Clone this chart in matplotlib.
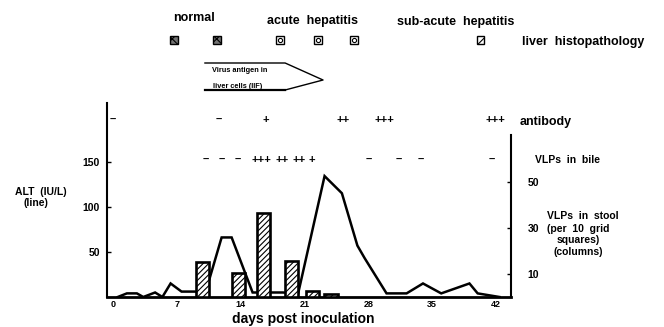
import matplotlib
matplotlib.use('Agg')
import matplotlib.pyplot as plt
from matplotlib.transforms import blended_transform_factory
from matplotlib.patches import Rectangle

plt.rcParams['font.family'] = ['Liberation Sans', 'DejaVu Sans']
plt.rcParams['font.weight'] = 'bold'
plt.rcParams['hatch.linewidth'] = 0.8

# ---------------- data ----------------
alt_days = [0.5, 1.5, 2.6, 3.3, 4.6, 5.4, 6.3, 7.5, 9.0, 10.1, 11.9, 13.0, 15.3,
            18.6, 20.3, 23.2, 25.1, 26.8, 27.6, 30.0, 32.2, 34.0, 36.0, 39.1, 40.0, 42.4]
alt_vals = [0, 4, 4, 0, 5, 0, 15, 6, 6, 4, 66, 66, 5,
            5, 4, 134, 115, 57, 43, 4, 4, 15, 4, 15, 4, 0]

stool_days = [9.8, 13.75, 16.5, 19.6, 21.9, 23.9]
stool_vals = [15, 10.5, 36.5, 15.5, 2.6, 1.3]

ab_days = [0, 11.6, 16.7, 25.2, 29.8, 41.9]
ab_labels = ['–', '–', '+', '++', '+++', '+++']

bile_days = [10.2, 11.9, 13.7, 16.3, 18.5, 20.4, 21.8, 28.1, 31.3, 33.7, 41.6]
bile_labels = ['–', '–', '–', '+++', '++', '++', '+', '–', '–', '–', '–']

histo_days = [6.7, 11.4, 18.3, 22.5, 26.4, 40.3]
histo_types = ['normal', 'normal', 'acute', 'acute', 'acute', 'subacute']

x_ticks = [0, 7, 14, 21, 28, 35, 42]
alt_ticks = [50, 100, 150]
stool_ticks = [10, 30, 50]

# ---------------- figure ----------------
W, H = 664, 327
fig = plt.figure(figsize=(W / 100, H / 100), dpi=100)
fig.patch.set_facecolor('white')

def fx(px):
    return px / W

def fy(px):
    return 1 - px / H

ax = fig.add_axes([fx(107), fy(297), fx(511) - fx(107), fy(103) - fy(297)])
ax2 = ax.twinx()

ax.plot(alt_days, alt_vals, color='black', lw=1.8, solid_joinstyle='miter')
ax.set_xlim(-0.68, 43.66)
ax.set_ylim(0, 215)

ax2.bar(stool_days, stool_vals, width=1.45, facecolor='white', edgecolor='black',
        linewidth=1.9, hatch='//////', zorder=3)
ax2.set_ylim(0, 84.3)
ax.set_zorder(1)
ax.patch.set_visible(False)
ax2.set_zorder(2)
ax2.patch.set_visible(False)

for a in (ax, ax2):
    a.spines['top'].set_visible(False)
ax.spines['right'].set_visible(False)
ax2.spines['left'].set_visible(False)
ax2.spines['bottom'].set_visible(False)
ax.spines['left'].set_linewidth(1.5)
ax.spines['bottom'].set_linewidth(2.0)
ax2.spines['right'].set_linewidth(1.5)
ax2.spines['right'].set_bounds(0, 70.4)

ax.set_xticks(x_ticks)
ax.set_xticklabels([str(t) for t in x_ticks], fontsize=6.5, fontweight='bold')
ax.tick_params(axis='x', length=0, pad=2.5)
ax.set_yticks(alt_ticks)
ax.set_yticklabels([str(t) for t in alt_ticks], fontsize=7.5, fontweight='bold')
ax.tick_params(axis='y', direction='in', length=3, width=1, pad=5)
ax2.set_yticks(stool_ticks)
ax2.set_yticklabels([str(t) for t in stool_ticks], fontsize=7.5, fontweight='bold')
ax2.tick_params(axis='y', direction='in', length=3, width=1, pad=12)

fig.text(fx(303), fy(319), 'days post inoculation', ha='center', va='center',
         fontsize=10, fontweight='bold')

trans = blended_transform_factory(ax.transData, fig.transFigure)

# antibody and bile rows
for d, s in zip(ab_days, ab_labels):
    ax.text(d, fy(120), s, transform=trans, ha='center', va='center',
            fontsize=8, fontweight='bold', clip_on=False)
for d, s in zip(bile_days, bile_labels):
    ax.text(d, fy(160), s, transform=trans, ha='center', va='center',
            fontsize=8, fontweight='bold', clip_on=False)

# histopathology icons
sz_d = 0.85
sz_f = 8 / H
for d, t in zip(histo_days, histo_types):
    y0 = fy(40) - sz_f / 2
    x0 = d - sz_d / 2
    if t == 'normal':
        ax.add_artist(Rectangle((x0, y0), sz_d, sz_f, transform=trans, facecolor='0.45',
                                edgecolor='black', hatch='xxx', lw=1, clip_on=False))
    elif t == 'acute':
        ax.add_artist(Rectangle((x0, y0), sz_d, sz_f, transform=trans, facecolor='white',
                                edgecolor='black', lw=1, clip_on=False))
        ax.plot([d], [fy(40)], marker='o', ms=3, mfc='white', mec='black', mew=0.8,
                transform=trans, clip_on=False)
    else:
        ax.add_artist(Rectangle((x0, y0), sz_d, sz_f, transform=trans, facecolor='white',
                                edgecolor='black', hatch='///', lw=1, clip_on=False))

# header texts
ax.text(8.9, fy(18), 'normal', transform=trans, ha='center', va='center',
        fontsize=9, fontweight='bold')
ax.text(16.9, fy(21), 'acute  hepatitis', transform=trans, ha='left', va='center',
        fontsize=9, fontweight='bold')
ax.text(31.1, fy(22), 'sub-acute  hepatitis', transform=trans, ha='left', va='center',
        fontsize=9, fontweight='bold')

# arrow box
ax.plot([10.07, 18.87, 23.03, 18.87], [fy(63), fy(63), fy(80), fy(90)],
        color='black', lw=1.0, transform=trans, clip_on=False)
ax.plot([10.07, 18.87], [fy(90), fy(90)], color='black', lw=1.6,
        transform=trans, clip_on=False)
ax.text(10.85, fy(71), 'Virus antigen in', transform=trans, ha='left', va='center',
        fontsize=5.3, fontweight='bold')
ax.text(10.95, fy(86), 'liver cells (IIF)', transform=trans, ha='left', va='center',
        fontsize=5.3, fontweight='bold')

# right-side labels
fig.text(fx(522), fy(42), 'liver  histopathology', ha='left', va='center',
         fontsize=9, fontweight='bold')
fig.text(fx(520), fy(122), 'antibody', ha='left', va='center',
         fontsize=9, fontweight='bold')
fig.text(fx(535), fy(160), 'VLPs  in  bile', ha='left', va='center',
         fontsize=7.5, fontweight='bold')
fig.text(fx(547), fy(216), 'VLPs  in  stool', ha='left', va='center',
         fontsize=7.5, fontweight='bold')
fig.text(fx(547), fy(229), '(per  10  grid', ha='left', va='center',
         fontsize=7.5, fontweight='bold')
fig.text(fx(578), fy(240), 'squares)', ha='center', va='center',
         fontsize=7.5, fontweight='bold')
fig.text(fx(578), fy(252), '(columns)', ha='center', va='center',
         fontsize=7.5, fontweight='bold')

# left label
fig.text(fx(15), fy(192), 'ALT  (IU/L)', ha='left', va='center',
         fontsize=7.5, fontweight='bold')
fig.text(fx(36), fy(203), '(line)', ha='center', va='center',
         fontsize=7.5, fontweight='bold')

fig.savefig('out.png', dpi=100, facecolor='white')
